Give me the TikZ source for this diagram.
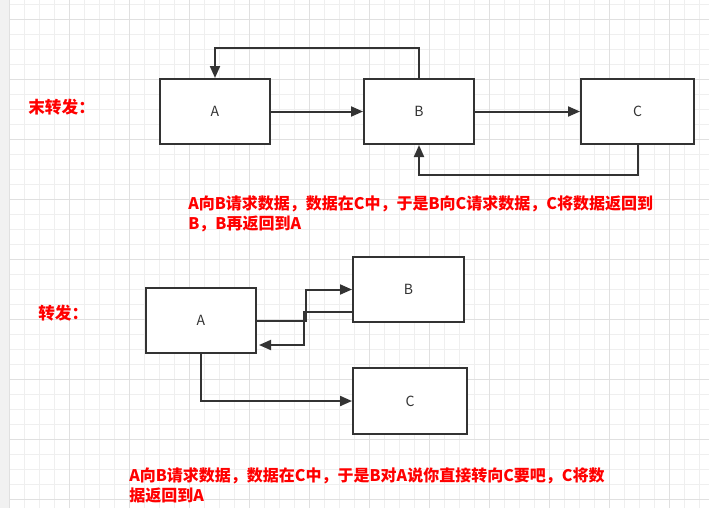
\documentclass[tikz,border=0pt]{standalone}
\usepackage{fontspec}
\setmainfont{Noto Sans CJK SC}
\usetikzlibrary{arrows.meta, calc}
\definecolor{ink}{HTML}{333333}
\definecolor{gridminor}{HTML}{EFEFEF}
\definecolor{gridmajor}{HTML}{E0E0E0}
\definecolor{sidebar}{HTML}{F1F1F1}
\tikzset{
    box/.style={rectangle, draw=ink, line width=1.5pt, fill=white, minimum width=110*0.75pt, minimum height=65*0.75pt, text=ink, font=\fontsize{10.5}{12}\selectfont},
    flow/.style={draw=ink, line width=1.5pt, -{Triangle[length=9pt, width=7.5pt]}},
    note/.style={text=red, font=\fontsize{12}{15}\selectfont\bfseries, align=left, inner sep=0pt},
    heading/.style={text=red, font=\fontsize{12.5}{15}\selectfont\bfseries, inner sep=0pt}
}

\begin{document}
\begin{tikzpicture}[x=0.75pt, y=-0.75pt]
    \useasboundingbox (0,0) rectangle (709,508);
    % grid paper
    \fill[white] (0,0) rectangle (709,508);
    \fill[sidebar] (0,0) rectangle (9,508);
    \foreach \x in {9,24,...,709} \draw[gridminor, line width=0.75pt] (\x,0) -- (\x,508);
    \foreach \y in {4,19,...,508} \draw[gridminor, line width=0.75pt] (9,\y) -- (709,\y);
    \foreach \x in {9,69,...,709} \draw[gridmajor, line width=0.75pt] (\x,0) -- (\x,508);
    \foreach \y in {19,79,...,508} \draw[gridmajor, line width=0.75pt] (9,\y) -- (709,\y);

    % without forwarding
    \node[heading, anchor=west] (title1) at (28,107.5) {末转发：};
    \node[box] (topA) at (215,111.5) {A};
    \node[box] (topB) at (419,111.5) {B};
    \node[box, minimum width=113*0.75pt] (topC) at (637.5,111.5) {C};
    \node[note, anchor=north west] (text1) at (188,195) {A向B请求数据，数据在C中，于是B向C请求数据，C将数据返回到\\B，B再返回到A};

    \draw[flow] (topA) -- (topB);
    \draw[flow] (topB) -- (topC);
    \draw[flow] (topB.north) -- ++(0,-30) -| (topA.north);
    \draw[flow] (topC.south) -- ++(0,30) -| (topB.south);

    % with forwarding
    \node[heading, anchor=west] (title2) at (38,313.5) {转发：};
    \node[box] (botA) at (201,320.5) {A};
    \node[box, minimum width=111*0.75pt] (botB) at (408.5,289.5) {B};
    \node[box, minimum width=114*0.75pt, minimum height=66*0.75pt] (botC) at (410,401) {C};
    \node[note, anchor=north west] (text2) at (129,467.5) {A向B请求数据，数据在C中，于是B对A说你直接转向C要吧，C将数\\据返回到A};

    \draw[flow] (botA.east) -- ++(49,0) |- (botB.west);
    \draw[flow] ($(botB.south west)+(0,-11)$) -- ++(-48,0) |- ($(botA.south east)+(2,-9)$);
    \draw[flow] (botA.south) |- (botC.west);
\end{tikzpicture}
\end{document}
